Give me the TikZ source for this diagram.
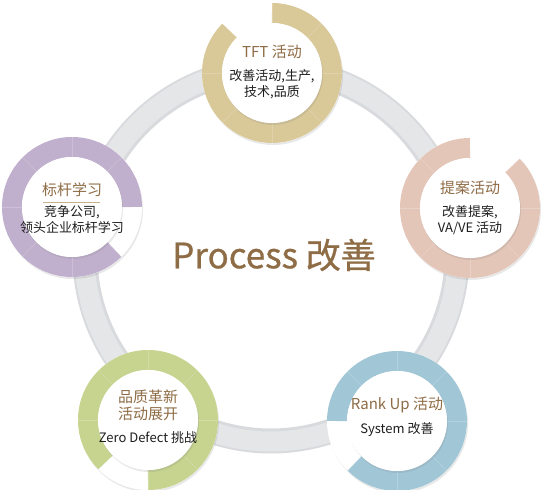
\documentclass[tikz,border=0pt]{standalone}
\usepackage{fontspec}
\setmainfont{Noto Sans CJK SC}
\newfontfamily\procfont{Noto Sans CJK SC}[FakeBold=0.8]
\usepackage{xcolor}
\usetikzlibrary{shadows}
\definecolor{ringgray}{HTML}{E5E6E8}
\definecolor{ringshade}{HTML}{D9DADD}
\definecolor{tftgold}{HTML}{D9C898}
\definecolor{tianpink}{HTML}{E3C6B8}
\definecolor{rankblue}{HTML}{A1C7D7}
\definecolor{zdgreen}{HTML}{C6D490}
\definecolor{bmpurple}{HTML}{C0B0CD}
\definecolor{titlebrown}{HTML}{8E6C45}
\definecolor{rulebrown}{HTML}{C9AE8A}
\definecolor{bodyblack}{HTML}{1E1E1E}

\begin{document}
\begin{tikzpicture}[x=1pt,y=1pt,
  title/.style={text=titlebrown,font=\fontsize{15}{17}\selectfont,align=center,inner sep=0pt},
  body/.style={text=bodyblack,font=\fontsize{13}{16}\selectfont,align=center,inner sep=0pt},
  softshadow/.style={drop shadow={opacity=0.18,shadow xshift=1pt,shadow yshift=-2pt}}]
\useasboundingbox (0,0) rectangle (542,490);
%%%CENTRES
\coordinate (ring) at (271,235);
\coordinate (tft) at (272,417);
\coordinate (tian) at (470,282);
\coordinate (rank) at (397,69);
\coordinate (zd) at (148,70);
\coordinate (bm) at (72,283);
%%%GREY RING
\draw[line width=25pt, ringshade] (ring) circle (186);
\draw[line width=20pt, ringgray] (ring) circle (186.5);
\node[text=titlebrown,font=\procfont\fontsize{35}{40}\selectfont] (proc) at (274,235) {Process 改善};
%%%CIRCLES
\foreach \c/\col/\a in {tft/tftgold/135, tian/tianpink/90, rank/rankblue/225, zd/zdgreen/270, bm/bmpurple/0}{
  \fill[white, softshadow] (\c) circle (70);
  \draw[line width=20pt, \col] (\c) ++(\a:60) arc[start angle=\a, delta angle=315, radius=60];
  \foreach \k in {0,45,...,315}
    \draw[white, opacity=0.2, line width=0.5pt] (\c) ++(\k:50) -- ++(\k:20);
  \fill[white, softshadow] (\c) circle (50);
}
%%%TEXTS
\node[title] (tfttitle) at (tft) [yshift=21pt] {TFT 活动};
\node[body] (tftbody) at (tft) [yshift=-11.5pt] {改善活动,生产,\\技术,品质};
\node[title] (tiantitle) at (tian) [yshift=20pt] {提案活动};
\node[body] (tianbody) at (tian) [yshift=-12.5pt] {改善提案,\\VA/VE 活动};
\node[title] (ranktitle) at (rank) [yshift=16pt] {Rank Up 活动};
\node[body] (rankbody) at (rank) [yshift=-9pt] {System 改善};
\node[title] (zdtitle) at (zd) [yshift=15pt] {品质革新\\活动展开};
\node[body] (zdbody) at (zd) [yshift=-18pt] {Zero Defect 挑战};
\node[title] (bmtitle) at (bm) [yshift=17pt] {标杆学习};
\node[body] (bmbody) at (bm) [yshift=-13pt] {竞争公司,\\领头企业标杆学习};
\draw[rulebrown, line width=0.8pt] ([xshift=-29pt,yshift=5pt]bm) -- ([xshift=28pt,yshift=5pt]bm);
\end{tikzpicture}
\end{document}
